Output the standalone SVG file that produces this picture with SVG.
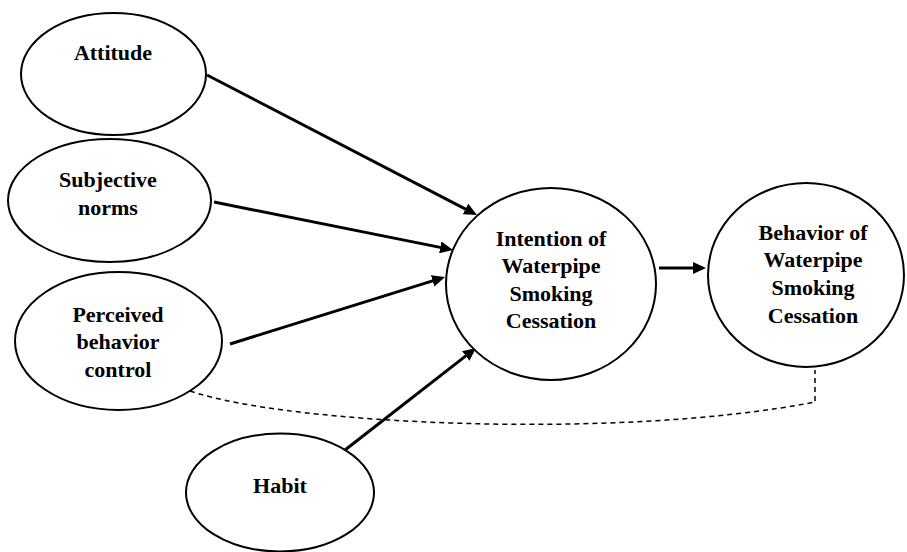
<svg xmlns="http://www.w3.org/2000/svg" width="907" height="552" viewBox="0 0 907 552">
<style>
  .node ellipse { fill: #ffffff; stroke: #000000; stroke-width: 2; }
  .node text { font-family: "Liberation Serif", "Times New Roman", serif; font-weight: bold; font-size: 22px; fill: #000000; text-anchor: middle; }
  .arrow { stroke: #000000; stroke-width: 3; fill: none; marker-end: url(#ah); }
  .dashed { stroke: #000000; stroke-width: 1.5; fill: none; stroke-dasharray: 5 4; }
</style>
<defs>
  <marker id="ah" markerUnits="userSpaceOnUse" markerWidth="14" markerHeight="12" refX="5" refY="6" orient="auto">
    <path d="M0,0 L13,6 L0,12 z" fill="#000000"/>
  </marker>
</defs>
<rect x="0" y="0" width="907" height="552" fill="#ffffff"/>
<g id="connectors">
  <line class="arrow" x1="207" y1="75" x2="469.9" y2="211.3"/>
  <line class="arrow" x1="214" y1="202" x2="445.2" y2="248.4"/>
  <line class="arrow" x1="230" y1="344" x2="437.4" y2="279.4"/>
  <line class="arrow" x1="345" y1="450" x2="469.7" y2="352.9"/>
  <line class="arrow" x1="659" y1="268" x2="698" y2="268"/>
  <path class="dashed" d="M190,391 C290,425 620,440 815,402 L815,370"/>
</g>
<g id="attitude" class="node">
  <ellipse cx="113.5" cy="74" rx="92.5" ry="61"/>
  <text x="113" y="60">Attitude</text>
</g>
<g id="subjective-norms" class="node">
  <ellipse cx="109.5" cy="200.5" rx="101.5" ry="61.5"/>
  <text x="108" y="187">Subjective</text>
  <text x="108" y="215">norms</text>
</g>
<g id="perceived-behavior-control" class="node">
  <ellipse cx="118.5" cy="341" rx="103.5" ry="69"/>
  <text x="118" y="322">Perceived</text>
  <text x="118" y="349">behavior</text>
  <text x="118" y="377">control</text>
</g>
<g id="habit" class="node">
  <ellipse cx="280" cy="492.5" rx="94" ry="59"/>
  <text x="280" y="493">Habit</text>
</g>
<g id="intention" class="node">
  <ellipse cx="551" cy="284" rx="105" ry="96"/>
  <text x="551" y="246">Intention of</text>
  <text x="551" y="273">Waterpipe</text>
  <text x="551" y="301">Smoking</text>
  <text x="551" y="328">Cessation</text>
</g>
<g id="behavior" class="node">
  <ellipse cx="806" cy="275" rx="98" ry="92"/>
  <text x="813" y="240">Behavior of</text>
  <text x="813" y="267">Waterpipe</text>
  <text x="813" y="295">Smoking</text>
  <text x="813" y="323">Cessation</text>
</g>
</svg>
